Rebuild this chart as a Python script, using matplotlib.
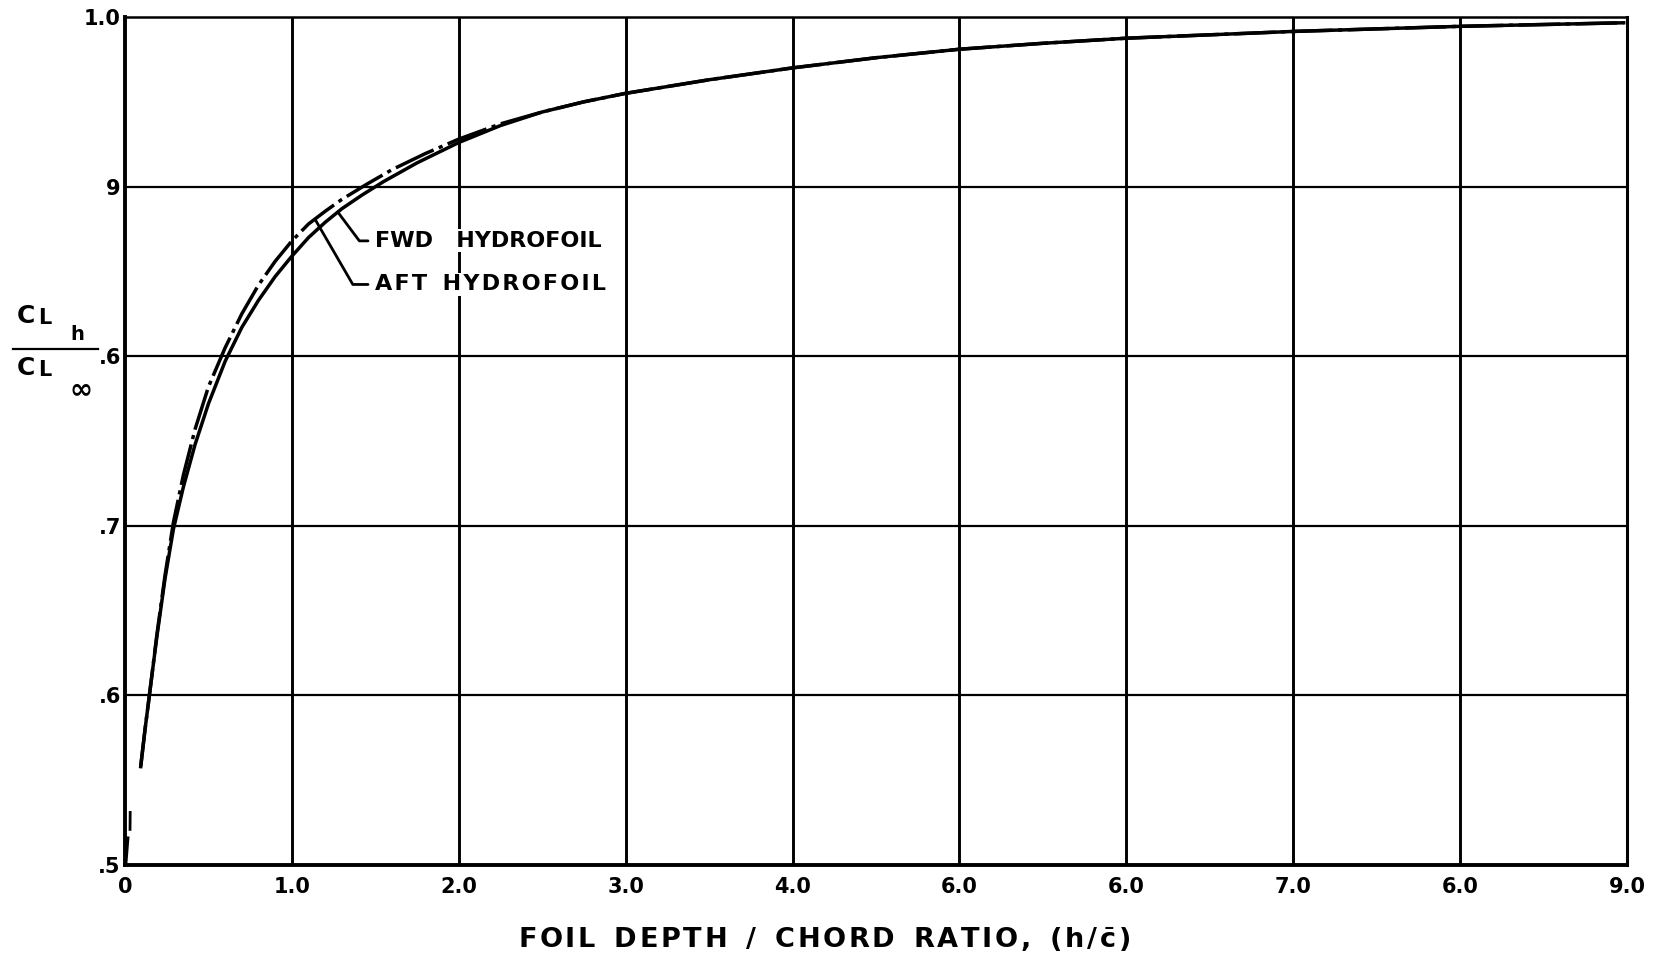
import matplotlib
matplotlib.use("Agg")
import matplotlib.pyplot as plt
import numpy as np

plt.rcParams['font.family'] = ['DejaVu Sans']
plt.rcParams['lines.scale_dashes'] = False

# FWD hydrofoil (solid, lower curve)
fwd_x = [0.094, 0.12, 0.146, 0.19, 0.24, 0.29, 0.35, 0.42, 0.50, 0.60, 0.70, 0.80, 0.90,
         1.00, 1.10, 1.20, 1.30, 1.42, 1.55, 1.75, 2.00, 2.25, 2.50, 2.75, 3.00, 3.50,
         4.00, 4.50, 5.00, 5.50, 6.00, 7.00, 8.00, 8.98]
fwd_y = [0.558, 0.580, 0.600, 0.634, 0.669, 0.698, 0.723, 0.748, 0.772, 0.797, 0.817, 0.833, 0.847,
         0.859, 0.870, 0.879, 0.887, 0.895, 0.903, 0.914, 0.926, 0.936, 0.944, 0.950, 0.955, 0.963,
         0.970, 0.976, 0.981, 0.9845, 0.9875, 0.9915, 0.9945, 0.9966]

# AFT hydrofoil (dash-dot, upper curve)
aft_x = [0.094, 0.12, 0.146, 0.19, 0.24, 0.29, 0.35, 0.42, 0.50, 0.60, 0.70, 0.80, 0.90,
         1.00, 1.10, 1.20, 1.30, 1.45, 1.60, 1.80, 2.00, 2.25, 2.50, 2.75, 3.00, 3.50,
         4.00, 4.50, 5.00, 5.50, 6.00, 7.00, 8.00, 8.98]
aft_y = [0.558, 0.580, 0.600, 0.635, 0.671, 0.702, 0.730, 0.757, 0.782, 0.805, 0.825, 0.842, 0.856,
         0.868, 0.878, 0.8855, 0.8925, 0.9015, 0.910, 0.9195, 0.928, 0.937, 0.944, 0.950, 0.955, 0.963,
         0.970, 0.976, 0.981, 0.9845, 0.9875, 0.9915, 0.9945, 0.9966]

# short marks near the surface (h -> 0)
surf_x = [0.006, 0.018, np.nan, 0.030, 0.031]
surf_y = [0.501, 0.516, np.nan, 0.521, 0.531]

x_ticks = [0, 1, 2, 3, 4, 5, 6, 7, 8, 9]
x_labels = ['0', '1.0', '2.0', '3.0', '4.0', '6.0', '6.0', '7.0', '6.0', '9.0']
y_ticks = [0.5, 0.6, 0.7, 0.8, 0.9, 1.0]
y_labels = ['.5', '.6', '.7', '.6', '9', '1.0']

fwd_tip = 1.275
aft_tip = 1.138

HS = '\u200a'


def track(word):
    return HS.join(word)


fig = plt.figure(figsize=(16.78, 9.61), dpi=100)
ax = fig.add_axes([0.0745, 0.0999, 0.8951, 0.8824])
ax.set_xlim(0, 9)
ax.set_ylim(0.5, 1.0)

for v in x_ticks[1:-1]:
    ax.axvline(v, color='black', lw=2.1, zorder=1)
for v in y_ticks[1:-1]:
    ax.axhline(v, color='black', lw=1.6, zorder=1)

ax.plot(fwd_x, fwd_y, color='black', lw=2.5, solid_joinstyle='round', zorder=3)
aft_line, = ax.plot(aft_x, aft_y, color='black', lw=2.5, zorder=3)
aft_line.set_dashes([30, 4, 3, 4])
ax.plot(surf_x, surf_y, color='black', lw=2.0, zorder=3)

for s in ['left', 'bottom']:
    ax.spines[s].set_linewidth(2.8)
ax.spines['top'].set_linewidth(1.8)
ax.spines['right'].set_linewidth(2.2)

ax.set_xticks(x_ticks)
ax.set_xticklabels(x_labels, fontsize=15, fontweight='bold')
ax.set_yticks(y_ticks)
ax.set_yticklabels(y_labels, fontsize=15, fontweight='bold')
ax.tick_params(axis='both', length=0)
ax.tick_params(axis='x', pad=9)
ax.tick_params(axis='y', pad=3)

# leader lines and labels
fwd_tip_y = np.interp(fwd_tip, fwd_x, fwd_y)
aft_tip_y = np.interp(aft_tip, aft_x, aft_y)
ax.annotate("", xy=(fwd_tip, fwd_tip_y), xytext=(1.456, 0.868),
            arrowprops=dict(arrowstyle='-', lw=2.0, shrinkA=0, shrinkB=0,
                            connectionstyle='angle,angleA=0,angleB=126.8,rad=0'))
ax.annotate("", xy=(aft_tip, aft_tip_y), xytext=(1.456, 0.8423),
            arrowprops=dict(arrowstyle='-', lw=2.0, shrinkA=0, shrinkB=0,
                            connectionstyle='angle,angleA=0,angleB=120.1,rad=0'))
ax.text(1.50, 0.8682, "FWD   HYDROFOIL", fontsize=16, fontweight='bold',
        ha='left', va='center', zorder=4,
        bbox=dict(facecolor='white', edgecolor='none', pad=1))
ax.text(1.50, 0.8423, track("AFT") + "  " + track("HYDROFOIL"), fontsize=16, fontweight='bold',
        ha='left', va='center', zorder=4,
        bbox=dict(facecolor='white', edgecolor='none', pad=1))

# y label as a fraction
fig.text(0.0155, 0.6712, "C", fontsize=18, fontweight='bold', ha='center', va='center')
fig.text(0.0265, 0.6691, "L", fontsize=15, fontweight='bold', ha='center', va='center')
fig.text(0.0459, 0.6524, "h", fontsize=14, fontweight='bold', ha='center', va='center')
fig.add_artist(plt.Line2D([0.0077, 0.0584], [0.6368, 0.6368], color='black', lw=1.6,
                          transform=fig.transFigure))
fig.text(0.0155, 0.6171, "C", fontsize=18, fontweight='bold', ha='center', va='center')
fig.text(0.0265, 0.6150, "L", fontsize=15, fontweight='bold', ha='center', va='center')
fig.text(0.0483, 0.5952, "\u221e", fontsize=20, fontweight='bold', ha='center', va='center')

xlabel = ("  ".join(track(w) for w in ["FOIL", "DEPTH", "/", "CHORD", "RATIO,"])
          + "  " + track("(h/") + HS + "$\\bar{\\mathbf{c}}$" + HS + ")")
fig.text(0.491, 0.0219, xlabel, fontsize=19.5, fontweight='bold', ha='center', va='center')

fig.savefig("out.png", dpi=100)
